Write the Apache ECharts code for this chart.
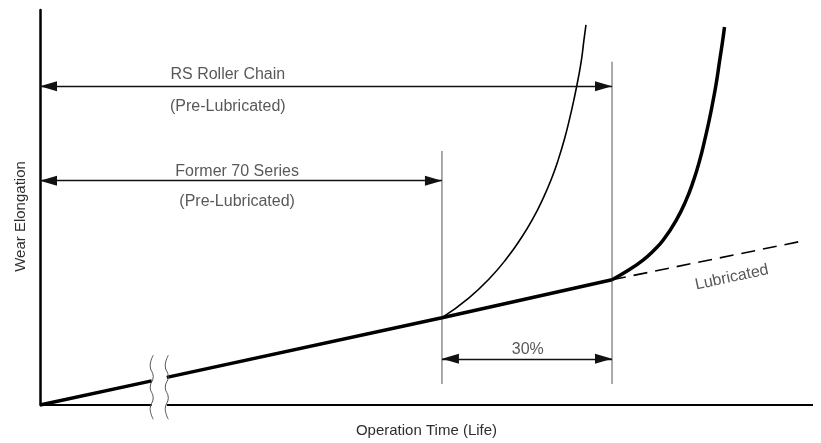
<!DOCTYPE html>
<html>
<head>
<meta charset="utf-8">
<script src="https://cdn.jsdelivr.net/npm/echarts@6/dist/echarts.min.js"></script>
<style>
  html, body { margin: 0; padding: 0; background: #fff; }
  #chart { width: 821px; height: 443px; }
</style>
</head>
<body>
<div id="chart"></div>
<script>
// units: operation time 0-100 (x), wear elongation 0-100 (y)
const breakX = [14.45, 16.4];

// normal wear line, broken at the axis break
const lifeLine = [[0, 0], [14.45, 6.1], null, [16.4, 7.0], [52.0, 22.1], [74.0, 31.7]];
const lubricatedLine = [[74.0, 31.7], [98.6, 41.5]];
const axisBase = [[0, 0], [14.45, 0], null, [16.4, 0], [100, 0]];

// wear curves after lubricant runs out
const former70Wear = [
  [52.01, 22.11], [55.50, 27.14], [58.21, 32.16], [60.41, 37.19], [62.23, 42.21],
  [63.78, 47.24], [65.07, 52.26], [66.17, 57.29], [67.08, 62.31], [67.85, 67.34],
  [68.50, 72.36], [69.08, 77.39], [69.60, 82.41], [70.05, 87.44], [70.37, 92.46],
  [70.63, 96.23]
];
const rsChainWear = [
  [74.00, 31.7], [75.95, 33.9], [78.01, 36.7], [79.43, 39.2], [80.60, 41.7],
  [82.28, 46.7], [83.57, 51.8], [84.54, 56.8], [85.32, 61.8], [85.96, 66.8],
  [86.55, 71.9], [87.06, 76.9], [87.52, 81.9], [87.90, 86.9], [88.29, 91.9],
  [88.55, 95.7]
];

// vertical guides at end of life
const guides = [[52.0, 5.3], [52.0, 64.3], null, [74.0, 5.3], [74.0, 86.9]];

// dimension arrows: [y, from, to]
const dims = [
  [80.7, 0, 74.0],
  [56.8, 0, 52.0],
  [11.7, 52.0, 74.0]
];

// wavy break mark (offsets from breakX)
const breakWave = [[0.2, 12.6], [-0.2, 9.9], [0.2, 7.2], [-0.2, 4.5], [0.2, 1.8], [-0.2, -0.9], [0.2, -3.6]];

const notes = [
  { name: 'RS Roller Chain', value: [24.3, 83.7] },
  { name: '(Pre-Lubricated)', value: [24.3, 75.6] },
  { name: 'Former 70 Series', value: [25.5, 59.0] },
  { name: '(Pre-Lubricated)', value: [25.5, 51.6] },
  { name: '30%', value: [63.1, 14.0] },
  { name: 'Lubricated', value: [89.5, 32.3], label: { rotate: 12 } }
];

const font = 'Liberation Sans';
const textColor = '#2e2e2e';
const textSize = 16;

// arrow head whose tip sits at the line end
const arrowHead = 'path://M0,0M4.5,17L9,34L0,34Z';

const chart = echarts.init(document.getElementById('chart'));

const plainLine = (data, style, extra) => Object.assign({
  type: 'line',
  data: data,
  symbol: 'none',
  silent: true,
  clip: false,
  lineStyle: Object.assign({ color: '#000' }, style)
}, extra || {});

chart.setOption({
  animation: false,
  grid: { left: 40, right: 8, top: 10, bottom: 35 },
  xAxis: {
    type: 'value',
    min: 0,
    max: 100,
    axisLine: { show: false },
    axisTick: { show: false },
    axisLabel: { show: false },
    splitLine: { show: false },
    name: 'Operation Time (Life)',
    nameLocation: 'middle',
    nameGap: 18,
    nameTextStyle: { fontFamily: font, fontSize: 15, color: textColor }
  },
  yAxis: {
    type: 'value',
    min: 0,
    max: 100,
    axisLine: { show: true, lineStyle: { color: '#000', width: 2.5 } },
    axisTick: { show: false },
    axisLabel: { show: false },
    splitLine: { show: false },
    name: 'Wear Elongation',
    nameLocation: 'middle',
    nameGap: 12,
    nameTextStyle: { fontFamily: font, fontSize: 15, color: textColor, padding: [0, 18, 0, 0] }
  },
  series: [
    plainLine(axisBase, { width: 2 }),
    plainLine(guides, { width: 1, color: '#555' }, {
      markLine: {
        silent: true,
        symbol: [arrowHead, arrowHead],
        symbolSize: [10, 34],
        label: { show: false },
        lineStyle: { color: '#111', width: 1.3, type: 'solid' },
        data: dims.map(d => [{ coord: [d[1], d[0]] }, { coord: [d[2], d[0]] }])
      }
    }),
    plainLine(lifeLine, { width: 3.5 }),
    plainLine(lubricatedLine, { width: 1.6, type: [14, 8] }),
    plainLine(former70Wear, { width: 1.6 }, { smooth: 0.5 }),
    plainLine(rsChainWear, { width: 3.5 }, { smooth: 0.5 }),
    ...breakX.map(bx => plainLine(breakWave.map(p => [bx + p[0], p[1]]), { width: 1, color: '#555' }, { smooth: true })),
    {
      type: 'scatter',
      data: notes,
      symbolSize: 0,
      silent: true,
      label: {
        show: true,
        position: 'inside',
        formatter: '{b}',
        fontFamily: font,
        fontSize: textSize,
        color: textColor
      }
    }
  ]
});
</script>
</body>
</html>
